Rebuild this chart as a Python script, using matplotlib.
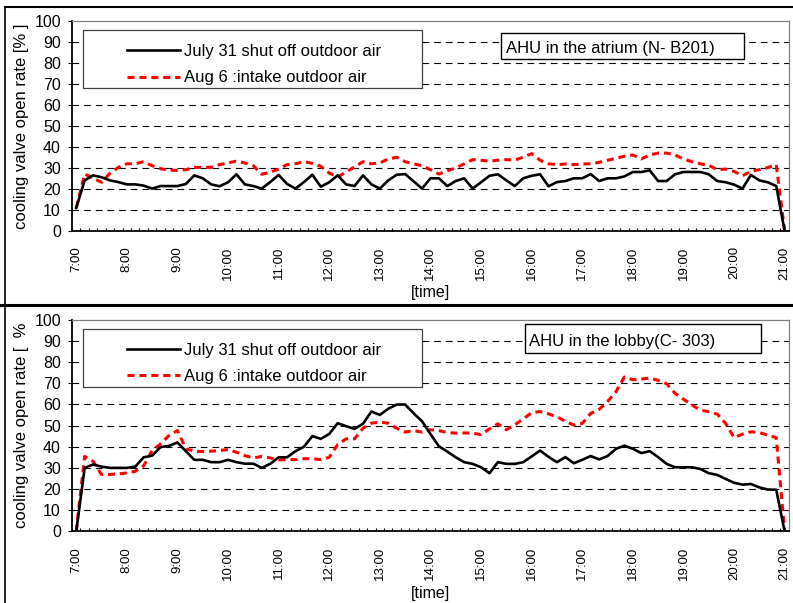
import numpy as np
import matplotlib
matplotlib.use('Agg')
import matplotlib.pyplot as plt
from matplotlib.patches import Rectangle
from matplotlib.lines import Line2D

plt.rcParams['font.family'] = ['Liberation Sans', 'DejaVu Sans']

# 10分間隔のデータ 7:00-21:00
hours = [str(h) + ':00' for h in range(7, 22)]

atrium_jul31 = [11, 24.1, 26.5, 25.6, 24.1, 23.3, 22.2, 22.2, 21.6, 20.2,
                21.4, 21.4, 21.4, 22.4, 26.5, 25.1, 22.2, 21.3, 23.2, 27,
                22.2, 21.4, 20.2, 23.3, 26.7, 22.4, 20.2, 23.3, 26.8, 21.1,
                23.2, 26.5, 22.2, 21.4, 26.5, 22.2, 20.2, 24.1, 26.8, 27.1,
                23.7, 20.2, 25.1, 25.1, 21.4, 23.8, 25.1, 20.2, 23.2, 26.3,
                27, 24.1, 21.4, 25.1, 26.3, 27, 21.3, 23.3, 23.8, 25.1,
                25.1, 27.1, 23.8, 25.1, 25.1, 26, 28.1, 28.1, 28.9, 23.8,
                23.8, 27, 28.1, 28.1, 28.1, 27, 23.8, 23.2, 22.1, 20.2,
                26.7, 24.1, 23.2, 21.4, 0]
atrium_aug6 = [11, 27.1, 25.2, 23.2, 27.5, 30.3, 32, 32, 33, 31.1,
               29.7, 28.9, 28.9, 29.2, 30.3, 30.3, 30.3, 31.6, 32.4, 33.3,
               32.4, 31.1, 27, 28, 29.5, 31.6, 32, 33, 32.2, 30.8,
               27.6, 25.7, 28.1, 30.5, 33, 32, 32.4, 34.3, 35.1, 33,
               32, 31.1, 29.2, 27.1, 28.7, 30, 32, 34, 33.7, 33.2,
               33.7, 34, 33.7, 35.2, 36.8, 33.7, 32, 31.6, 31.9, 31.6,
               31.9, 32, 32.7, 33.7, 34.6, 35.6, 36.2, 34.3, 36.2, 37.1,
               37.1, 36.2, 34.3, 33, 32, 31.3, 29.2, 29.5, 28.4, 26.3,
               28.4, 29.2, 30.2, 31.6, 0]
lobby_jul31 = [0, 30, 31.6, 30.6, 30, 30, 30, 30.6, 35, 35.8,
               39.8, 40.4, 42, 37.9, 33.8, 33.8, 32.7, 32.7, 33.8, 32.7,
               32, 32, 30, 31.9, 35, 35, 37.9, 40, 45, 43.7,
               46, 51.1, 49.7, 48.4, 50.8, 56.6, 55, 57.9, 59.9, 59.9,
               55.8, 52, 46, 40.2, 37.7, 35, 32.7, 31.9, 30.3, 27.5,
               32.7, 31.9, 31.9, 32.7, 35.4, 38.2, 35.2, 32.7, 35.1, 32.2,
               33.8, 35.6, 34, 35.6, 39, 40.5, 39, 37, 37.9, 35.1,
               31.9, 30.3, 30.3, 30.3, 29.5, 27.5, 26.7, 24.8, 23, 22.1,
               22.4, 20.8, 19.8, 19.7, 0]
lobby_aug6 = [0, 35.4, 33.1, 26.9, 26.9, 27.2, 27.6, 28.4, 31, 38.2,
              41.3, 45.3, 47.6, 39, 37.9, 37.7, 37.9, 38.2, 38.7, 37.4,
              35.8, 34.7, 35.4, 34.7, 33.8, 33.9, 33.9, 34.3, 34.4, 33.9,
              35, 41, 43.7, 43.7, 48.7, 51.1, 51.6, 51.1, 48.7, 46.9,
              47.6, 46.9, 48, 47.6, 46.7, 46.4, 46.5, 46.4, 45.7, 48.4,
              50.8, 48, 50.3, 53.1, 56, 56.6, 55.5, 54.1, 52, 50.2,
              51, 55.7, 57.6, 61.3, 66, 72.9, 71.6, 71.9, 72.4, 71.3,
              69.7, 65.2, 62.4, 59.7, 57.3, 56.5, 55.4, 51, 44.3, 45.9,
              47, 46.7, 45.4, 44.3, 0]

label_jul = 'July 31 shut off outdoor air'
label_aug = 'Aug 6 :intake outdoor air'

fig = plt.figure(figsize=(7.93, 6.03), dpi=100)
ax1 = fig.add_axes([0.0908, 0.6169, 0.904, 0.3483])
ax2 = fig.add_axes([0.0908, 0.1186, 0.904, 0.3515])


def draw_panel(ax, black, red, title, trect, tpos, ylabel):
    x = np.arange(len(black))
    ax.plot(x, black, color='black', lw=1.9, zorder=5, label=label_jul)
    ax.plot(x, red, color='red', lw=2.2, ls=(0, (2.3, 1.6)), zorder=4, label=label_aug)
    ax.set_xlim(-0.5, len(black) - 0.5)
    ax.set_ylim(0, 100)
    ax.set_yticks(range(0, 101, 10))
    ax.set_xticks(x[::6])
    ax.set_xticklabels(hours, rotation=90, fontsize=9.5)
    ax.set_xticks(np.arange(-0.5, len(black), 1), minor=True)
    ax.tick_params(axis='x', which='major', length=0, pad=11)
    ax.tick_params(axis='x', which='minor', direction='in', length=2.5, width=0.8)
    ax.tick_params(axis='y', length=3, width=0.8, pad=5, labelsize=11.5)
    ax.grid(axis='y', color='black', lw=0.8, ls=(0, (6, 4.5)))
    gl = ax.get_ygridlines()
    gl[0].set_visible(False)
    gl[-1].set_visible(False)
    for s in ['top', 'right']:
        ax.spines[s].set_color('#808080')
        ax.spines[s].set_linewidth(0.9)
    for s in ['left', 'bottom']:
        ax.spines[s].set_linewidth(1.3)
    ax.set_axisbelow(True)

    # 凡例の枠
    ax.add_patch(Rectangle((0.015, 0.683), 0.473, 0.273, transform=ax.transAxes,
                           fc='white', ec='#404040', lw=0.9, zorder=6))
    ax.legend(loc='upper left', bbox_to_anchor=(0.0767, 0.89), frameon=False,
              borderpad=0, borderaxespad=0, handlelength=3.2, handletextpad=0.2,
              labelspacing=0.68, fontsize=12).set_zorder(7)

    ax.add_patch(Rectangle(trect[:2], trect[2], trect[3], transform=ax.transAxes,
                           fc='white', ec='black', lw=1.0, zorder=6))
    ax.text(tpos[0], tpos[1], title, transform=ax.transAxes, fontsize=12,
            va='center', ha='left', zorder=7)

    ax.set_ylabel(ylabel, fontsize=12)
    ax.yaxis.set_label_coords(-0.06, 0.5)
    ax.set_xlabel('[time]', fontsize=11.5, va='top')
    ax.xaxis.set_label_coords(0.5, -0.255)


draw_panel(ax1, atrium_jul31, atrium_aug6, 'AHU in the atrium (N- B201)',
           (0.599, 0.818, 0.338, 0.127), (0.605, 0.87), 'cooling valve open rate [% ]')
draw_panel(ax2, lobby_jul31, lobby_aug6, 'AHU in the lobby(C- 303)',
           (0.632, 0.843, 0.329, 0.134), (0.638, 0.895), 'cooling valve open rate [  %')

# チャートの外枠
fig.add_artist(Line2D([5 / 793, 5 / 793], [0, 1 - 7 / 603], color='black', lw=1.2,
                      transform=fig.transFigure))
fig.add_artist(Line2D([5 / 793, 1], [1 - 7 / 603, 1 - 7 / 603], color='black', lw=1.5,
                      transform=fig.transFigure))
fig.add_artist(Line2D([0, 1], [1 - 305 / 603, 1 - 305 / 603], color='black', lw=2.2,
                      transform=fig.transFigure))

plt.savefig('out.png', dpi=100)
